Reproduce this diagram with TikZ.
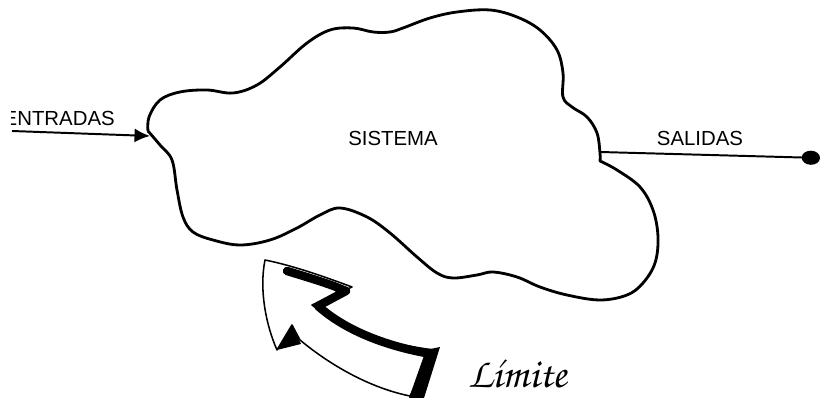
\documentclass[tikz,border=0pt]{standalone}
\usepackage[T1]{fontenc}
\usepackage{fontspec}
\setmainfont{Liberation Sans}
\usetikzlibrary{arrows.meta,positioning}

\tikzset{
  cloudline/.style={line width=2pt, line join=round},
  flowline/.style={line width=1.4pt},
  lbl/.style={font=\fontsize{14.5}{16}\selectfont, inner sep=0pt},
  hand/.style={font=\fontencoding{T1}\fontfamily{pzc}\fontsize{30}{30}\selectfont, inner sep=0pt},
  shade/.style={line width=6pt, line join=round, line cap=round}
}

\begin{document}
\begin{tikzpicture}[x=0.025cm, y=-0.025cm]
    \useasboundingbox (0,0) rectangle (823,398);

    % Labels
    \node[lbl] (sistema) at (393,138) {SISTEMA};
    \node[lbl] (salidas) at (700,138) {SALIDAS};
    \begin{scope}
        \clip (11,0) rectangle (823,398);
        \node[lbl, anchor=east] (entradas) at (115,118) {ENTRADAS};
    \end{scope}
    \node[hand, anchor=base west] (limite) at (468,388) {L\'{\i}mite};

    % Cloud (system)
    \draw[cloudline] plot[smooth, tension=0.6] coordinates {(148,131) (149,117) (160,100) (180,92) (207,90) (233,93) (257,85) (280,67) (307,43) (330,30) (353,28) (373,32) (390,32) (403,28) (430,18) (457,12) (490,10) (517,17) (540,30) (557,50) (563,73) (563,97) (572,107) (587,117) (597,133) (600,153) (600,161)}
        -- plot[smooth, tension=0.6] coordinates {(600,161) (617,170) (640,187) (653,210) (658,237) (655,263) (643,283) (627,295) (600,300) (567,295) (540,287) (517,277) (493,272) (477,275) (453,278) (437,273) (417,257) (390,233) (367,217) (340,208) (320,215) (297,228) (270,240) (240,245) (213,240) (193,232) (183,217) (177,190) (172,160) (160,145) (148,131)};

    % Inputs and outputs
    \coordinate (inL) at (12,131);
    \coordinate (inR) at (150,136);
    \coordinate (outL) at (600,152);
    \coordinate (outR) at (820,158);
    \draw[flowline, -{Latex[length=11pt, width=10pt]}] (inL) -- (inR);
    \draw[flowline, -{Circle[length=13pt, width=10pt]}] (outL) -- (outR);

    % Boundary arrow
    \filldraw[fill=white, line width=1.1pt, line join=round] (265,260) .. controls (259,290) and (266,325) .. (277,350) -- (292,325) -- (300,340) .. controls (330,365) and (370,388) .. (410,396) -- (435,350) .. controls (390,345) and (345,330) .. (312,305) -- (352,287) .. controls (320,275) and (290,265) .. (265,260) -- cycle;
    \fill (277,350) -- (292,325) -- (301,344) -- cycle;
    \draw[shade] (287,271) .. controls (310,278) and (330,284) .. (346,291) -- (318,306) .. controls (347,332) and (390,347) .. (431,354);
    \fill (426,350) -- (440,347) -- (424,398) -- (409,398) -- cycle;
\end{tikzpicture}
\end{document}
